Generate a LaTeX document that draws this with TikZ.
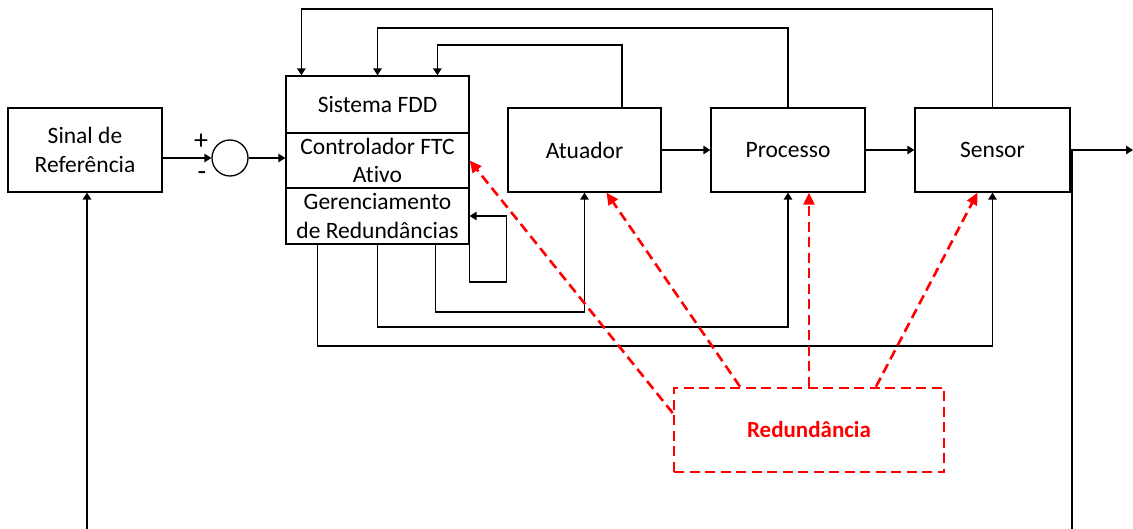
\documentclass[tikz,border=0pt]{standalone}
\usepackage{fontspec}
\setmainfont[Ligatures=NoCommon]{Carlito}
\usetikzlibrary{arrows.meta,calc}
\definecolor{redline}{RGB}{255,0,0}
\tikzset{
  blk/.style={draw, line width=1.3pt, rectangle, inner sep=0pt, align=center,
    font=\fontsize{23.5}{28.5}\selectfont},
  wire/.style={line width=1.4pt},
  arr/.style={wire, -{Triangle[length=7pt,width=8.5pt]}},
  rdash/.style={draw=redline, line width=2.6pt, dash pattern=on 10pt off 5.5pt},
  rarr/.style={rdash, -{Triangle[length=12pt,width=11pt]}},
  sign/.style={font=\fontsize{28}{30}\selectfont, inner sep=0pt}
}
\begin{document}
\begin{tikzpicture}[x=1pt,y=-1pt]
\useasboundingbox (0,0) rectangle (1133,529);

% blocks
\node[blk, minimum width=154pt, minimum height=84pt] (ref) at (85,150) {Sinal de\\Referência};
\node[draw, circle, line width=1.3pt, minimum size=36pt, inner sep=0pt] (sum) at (230,158) {};
\node[sign] (plus) at (201,142) {+};
\node[sign] (minus) at (202,176) {-};

\node[blk, minimum width=183pt, minimum height=57pt] (fdd) at (377.5,104.5) {Sistema FDD};
\node[blk, minimum width=183pt, minimum height=55pt] (ctl) at (377.5,160.5) {Controlador FTC\\Ativo};
\node[blk, minimum width=183pt, minimum height=56pt] (red) at (377.5,216) {Gerenciamento\\de Redundâncias};

\node[blk, minimum width=153pt, minimum height=84pt] (atu) at (584.5,150) {Atuador};
\node[blk, minimum width=154pt, minimum height=84pt] (proc) at (788,150) {Processo};
\node[blk, minimum width=155pt, minimum height=84pt] (sen) at (992.5,150) {Sensor};

\node[rdash, rectangle, minimum width=270pt, minimum height=84pt, inner sep=0pt,
      text=redline, font=\fontsize{23}{28}\selectfont\bfseries] (rd) at (809,430) {Redundância};

% helper levels for the routed wires
\coordinate (t1) at (0,9);
\coordinate (t2) at (0,28);
\coordinate (t3) at (0,45);
\coordinate (b1) at (0,346);
\coordinate (b2) at (0,327);
\coordinate (b3) at (0,312);
\coordinate (b4) at (0,282);
\coordinate (refin) at (87,529);
\coordinate (out) at (1133,150);
\coordinate (tap) at (1072,150);
\coordinate (fbend) at (1072,529);

% forward path
\draw[arr] (refin) -- (refin |- ref.south);
\draw[arr] (sum.west -| ref.east) -- (sum.west);
\draw[arr] (sum.east) -- (sum.east -| ctl.west);
\draw[arr] (atu.east) -- (proc.west);
\draw[arr] (proc.east) -- (sen.west);
\draw[arr] (sen.east) -- (out);
\draw[wire] (tap) -- (fbend);

% measurements back to the FDD system
\draw[arr] (sen.north) -- (sen.north |- t1) -| ([xshift=16pt]fdd.north west);
\draw[arr] (proc.north) -- (proc.north |- t2) -| (fdd.north);
\draw[arr] ([xshift=37.5pt]atu.north) -- ([xshift=37.5pt]atu.north |- t3) -| ([xshift=152pt]fdd.north west);

% redundancy management outputs
\draw[arr] ([xshift=32pt]red.south west) -- ([xshift=32pt]red.south west |- b1) -| (sen.south);
\draw[arr] (red.south) -- (red.south |- b2) -| (proc.south);
\draw[arr] ([xshift=150pt]red.south west) -- ([xshift=150pt]red.south west |- b3) -| (atu.south);
\draw[arr] (red.south east) -- (red.south east |- b4) -| ([xshift=37pt]red.east) -- (red.east);

% redundancy links
\draw[rarr] ([yshift=17pt]rd.west) -- (ctl.east);
\draw[rarr] ([xshift=-69pt]rd.north) -- ([xshift=22pt]atu.south);
\draw[rarr] (rd.north) -- (rd.north |- proc.south);
\draw[rarr] ([xshift=67pt]rd.north) -- ([xshift=-15pt]sen.south);
\end{tikzpicture}
\end{document}
